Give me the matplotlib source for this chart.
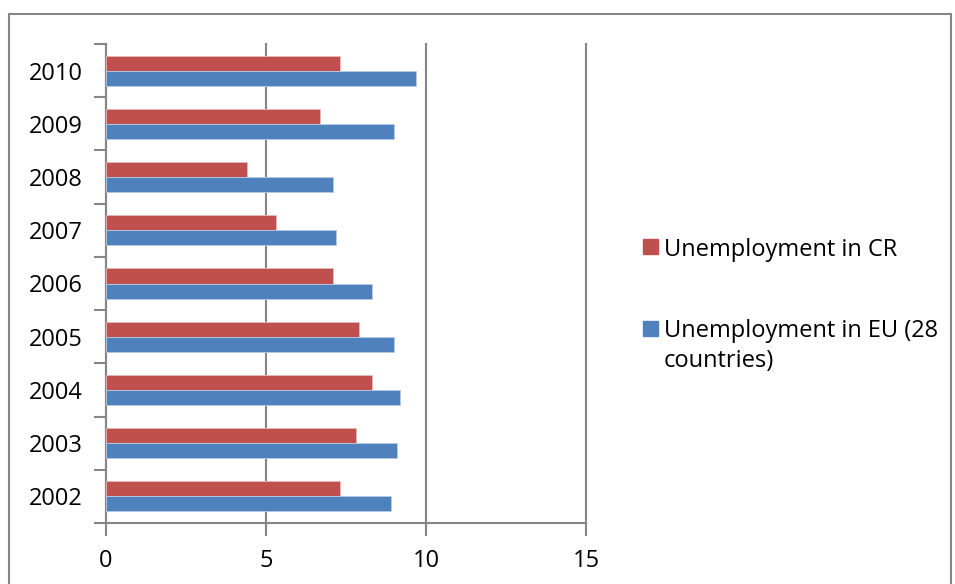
import matplotlib
matplotlib.use("Agg")
from matplotlib import pyplot as plt
from matplotlib.patches import Rectangle
import numpy as np

years = ["2002", "2003", "2004", "2005", "2006", "2007", "2008", "2009", "2010"]
cr_rate = [7.3, 7.8, 8.3, 7.9, 7.1, 5.3, 4.4, 6.7, 7.3]
eu_rate = [8.9, 9.1, 9.2, 9.0, 8.3, 7.2, 7.1, 9.0, 9.7]
x_ticks = [0, 5, 10, 15]
cr_label = "Unemployment in CR"
eu_label = "Unemployment in EU (28\ncountries)"

red = "#C0504D"
blue = "#4F81BD"
gray = "#868686"

plt.rcParams["font.family"] = ["Open Sans", "DejaVu Sans"]

W, H = 955, 584
fig = plt.figure(figsize=(W / 100, H / 100), dpi=100)

# outer chart frame
fig.add_artist(Rectangle((9 / W, -0.05), (951 - 9) / W, (H - 14) / H + 0.05,
                         transform=fig.transFigure, fill=False,
                         edgecolor=gray, linewidth=1.5))

left, right, top, bottom = 106, 586, 44, 523
ax = fig.add_axes([left / W, (H - bottom) / H, (right - left) / W, (bottom - top) / H])

y = np.arange(len(years))
bh = 0.282
ax.barh(y + bh / 2, cr_rate, height=bh, color=red, edgecolor="#e8b9b8", linewidth=0.6, zorder=3)
ax.barh(y - bh / 2, eu_rate, height=bh, color=blue, edgecolor="#b9cce4", linewidth=0.6, zorder=3)

ax.set_xlim(0, 15)
ax.set_ylim(-0.5, len(years) - 0.5)
ax.set_xticks(x_ticks)
ax.set_xticklabels([str(v) for v in x_ticks])
ax.set_yticks(y)
ax.set_yticklabels(years)
ax.set_yticks(np.arange(len(years) + 1) - 0.5, minor=True)

ax.grid(axis="x", color=gray, linewidth=1.5, zorder=0)
# keep the last gridline (at 15) from being half clipped at the axes edge
for gl in ax.get_xgridlines():
    gl.set_clip_on(False)
for s in ["top", "right"]:
    ax.spines[s].set_visible(False)
for s in ["left", "bottom"]:
    ax.spines[s].set_color(gray)
    ax.spines[s].set_linewidth(1.5)

ax.tick_params(axis="y", which="major", length=0, pad=17, labelsize=17)
ax.tick_params(axis="y", which="minor", length=9, width=1.5, color=gray, direction="out")
ax.tick_params(axis="x", length=9, width=1.5, color=gray, direction="out", pad=10, labelsize=17)

# legend drawn by hand so the swatch sits beside the first text line
def legend_entry(swatch_top, text_top, color, text):
    fig.add_artist(Rectangle((643 / W, (H - swatch_top - 15) / H), 15 / W, 15 / H,
                             transform=fig.transFigure, color=color))
    fig.text(664 / W, (H - text_top) / H, text, fontsize=17, va="top",
             ha="left", linespacing=1.31)

legend_entry(239, 238, red, cr_label)
legend_entry(321, 319, blue, eu_label)

fig.savefig("out.png", dpi=100)
